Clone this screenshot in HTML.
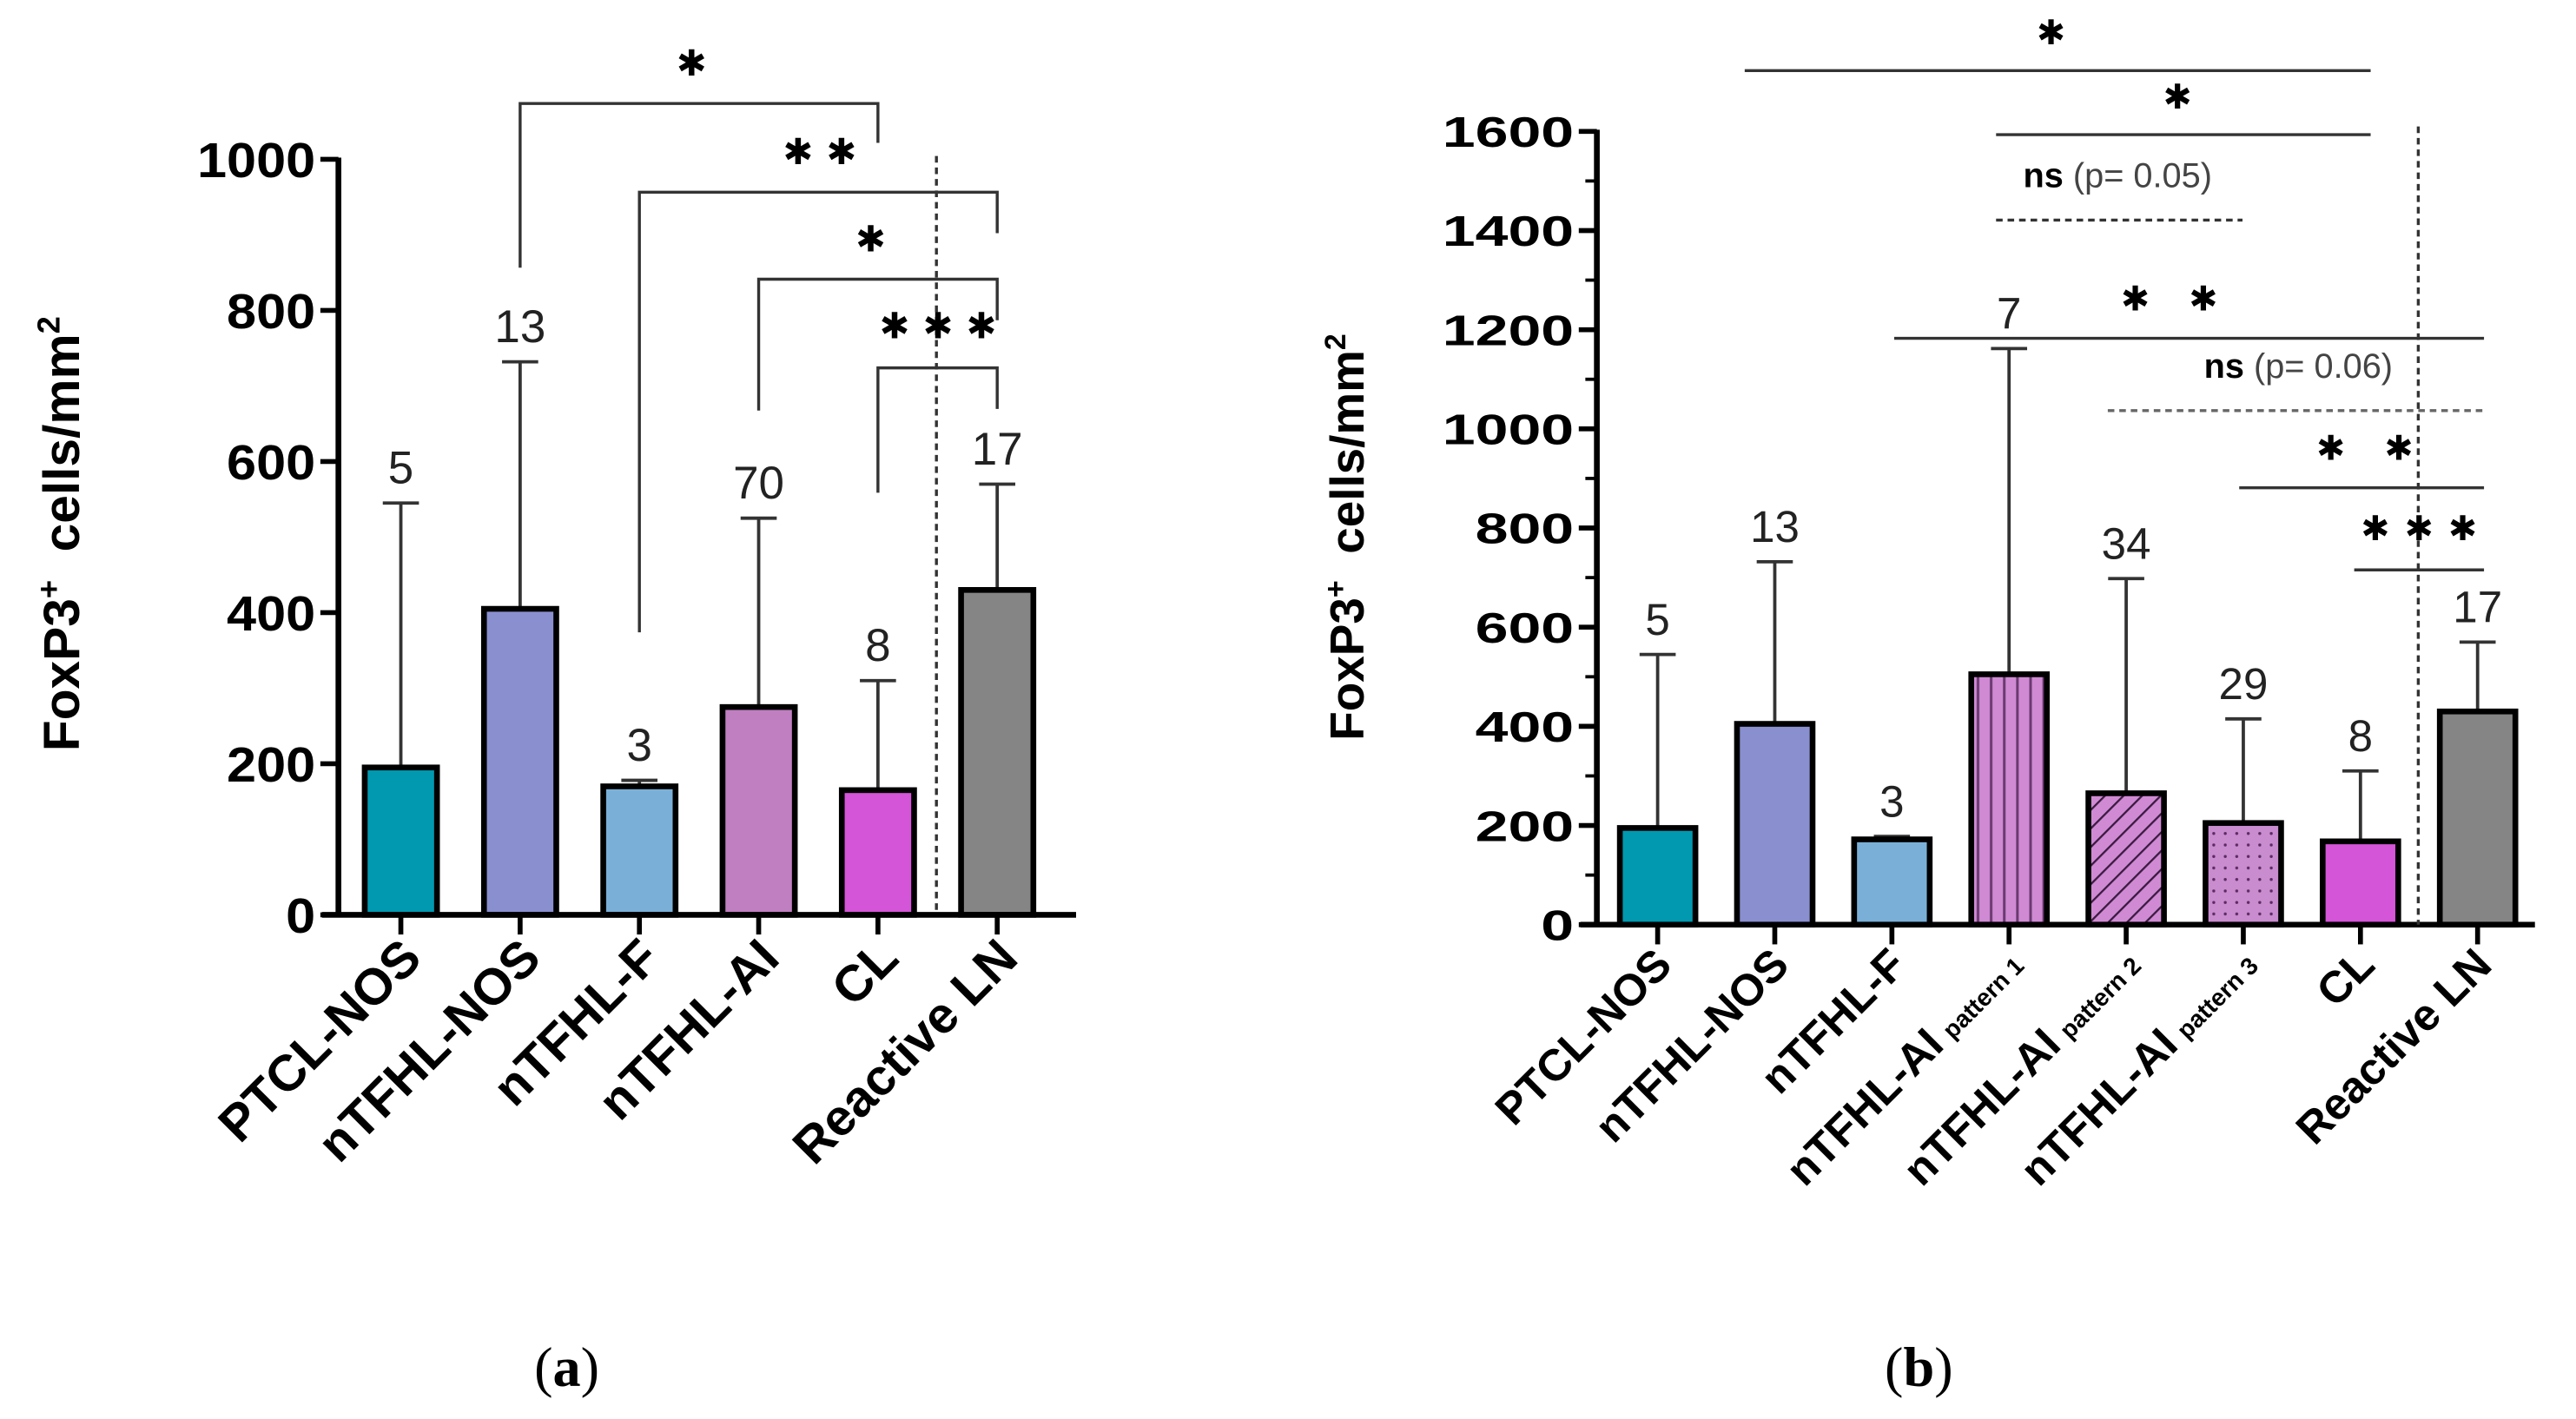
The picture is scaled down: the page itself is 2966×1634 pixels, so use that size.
<!DOCTYPE html>
<html><head><meta charset="utf-8"><style>
html,body{margin:0;padding:0;background:#fff;}
svg{display:block;}
text{font-family:"Liberation Sans",sans-serif;}
</style></head>
<body>
<svg id="fig" width="2966" height="1634" viewBox="0 0 1568 864" preserveAspectRatio="none" xmlns="http://www.w3.org/2000/svg">
<defs>
<pattern id="vstripe" width="8" height="8" patternUnits="userSpaceOnUse"><rect width="8" height="8" fill="#d08ad4"/><line x1="4" y1="0" x2="4" y2="8" stroke="#6a3a70" stroke-width="1.6"/></pattern>
<pattern id="dstripe" width="8" height="8" patternUnits="userSpaceOnUse" patternTransform="rotate(45)"><rect width="8" height="8" fill="#d08ad4"/><line x1="0" y1="0" x2="0" y2="8" stroke="#3a1a40" stroke-width="2.4"/></pattern>
<pattern id="dots" width="7" height="7" patternUnits="userSpaceOnUse"><rect width="7" height="7" fill="#c98ccf"/><circle cx="3.5" cy="3.5" r="0.9" fill="#5a2a60"/></pattern>
</defs>
<g id="pa"></g>
<g id="pb"></g>
<text x="345" y="844" text-anchor="middle" font-size="34" style="font-family:'Liberation Serif',serif">(<tspan font-weight="bold">a</tspan>)</text>
<text x="1168" y="844" text-anchor="middle" font-size="34" style="font-family:'Liberation Serif',serif">(<tspan font-weight="bold">b</tspan>)</text>
</svg>
<script>
// Panel A data
const catsA = ["PTCL-NOS","nTFHL-NOS","nTFHL-F","nTFHL-AI","CL","Reactive LN"];
const meanA = [195,405,170,275,165,430];
const errA = [545,732,178,525,310,570];
const nA = ["5","13","3","70","8","17"];
const fillA = ["#0099b0","#8a8fd0","#7ab0d8","#c07fc0","#d455d8","#858585"];
const ticksA = [0,200,400,600,800,1000];
// Panel B data
const catsB = ["PTCL-NOS","nTFHL-NOS","nTFHL-F","nTFHL-AI","nTFHL-AI","nTFHL-AI","CL","Reactive LN"];
const subB = ["","","","pattern 1","pattern 2","pattern 3","",""];
const meanB = [195,405,172,505,265,205,168,430];
const errB = [545,732,178,1162,698,415,310,570];
const nB = ["5","13","3","7","34","29","8","17"];
const fillB = ["#0099b0","#8a8fd0","#7ab0d8","url(#vstripe)","url(#dstripe)","url(#dots)","#d455d8","#858585"];
const ticksB = [0,200,400,600,800,1000,1200,1400,1600];

const NS="http://www.w3.org/2000/svg";
function mk(parent,tag,attrs,txt){const e=document.createElementNS(NS,tag);for(const k in attrs)e.setAttribute(k,attrs[k]);if(txt!==undefined)e.textContent=txt;parent.appendChild(e);return e;}

function drawPanel(g,cfg){
  const y=v=>cfg.y0-(v/cfg.ymax)*(cfg.y0-cfg.ytop);
  const x=i=>cfg.x0+i*cfg.step;
  cfg.cats.forEach((c,i)=>{
    const w=cfg.bw;
    const eb=mk(g,"line",{x1:x(i),x2:x(i),y1:y(cfg.err[i]),y2:y(cfg.mean[i]),stroke:"#333","stroke-width":2});
    
    
    const cap=mk(g,"line",{x1:x(i)-11,x2:x(i)+11,y1:y(cfg.err[i]),y2:y(cfg.err[i]),stroke:"#333","stroke-width":2});
    
    
    const b=mk(g,"rect",{x:x(i)-w/2,y:y(cfg.mean[i]),width:w,height:y(0)-y(cfg.mean[i]),fill:cfg.fill[i],stroke:"#000","stroke-width":3.5});
    
    
    const n=mk(g,"text",{x:x(i),y:y(cfg.err[i])-12,"text-anchor":"middle","font-size":cfg.nfs,fill:"#222"},cfg.n[i]);
    
    
    const t=mk(g,"line",{x1:x(i),x2:x(i),y1:cfg.y0,y2:cfg.y0+12,stroke:"#000","stroke-width":3});
    
    
    const lab=mk(g,"text",{transform:`translate(${x(i)+cfg.ldx},${cfg.y0+cfg.ldy}) rotate(-45)`,"text-anchor":"end","font-size":cfg.lfs,"font-weight":"bold"},c);
    if(cfg.sub&&cfg.sub[i]){mk(lab,"tspan",{"font-size":cfg.lfs*0.55,dx:6,dy:0},cfg.sub[i]);}
    
    
  });
  const ya=mk(g,"line",{x1:cfg.ax,x2:cfg.ax,y1:cfg.ytop-1,y2:cfg.y0+1.5,stroke:"#000","stroke-width":3.5});
  
  
  const xa=mk(g,"line",{x1:cfg.ax-10,x2:cfg.xend,y1:cfg.y0,y2:cfg.y0,stroke:"#000","stroke-width":3.5});
  
  
  cfg.ticks.forEach(v=>{
    const tk=mk(g,"line",{x1:cfg.ax-11,x2:cfg.ax,y1:y(v),y2:y(v),stroke:"#000","stroke-width":3});
    
    
    const s=String(v);
    const tl=mk(g,"text",{x:cfg.ax-14,y:y(v)+cfg.tfs*0.36,"text-anchor":"end","font-size":cfg.tfs,"font-weight":"bold",textLength:s.length*cfg.tcw,lengthAdjust:"spacingAndGlyphs"},s);
    
    
  });
  if(cfg.minor){cfg.ticks.slice(0,-1).forEach(v=>{
    const mt=mk(g,"line",{x1:cfg.ax-7,x2:cfg.ax,y1:y(v+cfg.minor),y2:y(v+cfg.minor),stroke:"#000","stroke-width":2});
    
    
  });}
  const yt=mk(g,"text",{transform:`translate(${cfg.titleX},${cfg.titleY}) rotate(-90)`,"text-anchor":"middle","font-size":cfg.ttfs,"font-weight":"bold"},"FoxP3");
  mk(yt,"tspan",{dy:-cfg.ttfs*0.38,"font-size":cfg.ttfs*0.62},"+");
  mk(yt,"tspan",{dy:cfg.ttfs*0.38},"\u00a0 cells/mm");
  mk(yt,"tspan",{dy:-cfg.ttfs*0.38,"font-size":cfg.ttfs*0.62},"2");
  
  
  const dv=mk(g,"line",{x1:cfg.dashX,x2:cfg.dashX,y1:cfg.dashTop,y2:cfg.y0,stroke:"#333","stroke-width":1.8,"stroke-dasharray":"4,3"});
  
  
  return {x,y};
}

const A=drawPanel(document.getElementById('pa'),{cats:catsA,mean:meanA,err:errA,n:nA,fill:fillA,ticks:ticksA,
  ymax:1000,y0:557,ytop:97,x0:244,step:72.6,bw:44,ax:206,xend:655,tfs:30,tcw:18,lfs:31,ldx:14,ldy:28,nfs:28,ttfs:31,titleX:48,titleY:325,dashX:570,dashTop:95});
const B=drawPanel(document.getElementById('pb'),{cats:catsB,sub:subB,mean:meanB,err:errB,n:nB,fill:fillB,ticks:ticksB,minor:100,
  ymax:1600,y0:563,ytop:80,x0:1009,step:71.3,bw:46,ax:972,xend:1543,tfs:26,tcw:20,lfs:27,ldx:10,ldy:26,nfs:27,ttfs:29,titleX:830,titleY:327,dashX:1472,dashTop:77});

const ga=document.getElementById('pa');
function bracket(g,x1,d1,x2,d2,yy,label,lx,ly){
  const p=mk(g,"path",{d:`M${x1},${d1} V${yy} H${x2} V${d2}`,fill:"none",stroke:"#333","stroke-width":1.8});
  
  
  const t=mk(g,"text",{x:lx,y:ly,"text-anchor":"middle","font-size":22,"letter-spacing":"8"},label);
  
  
}
bracket(ga,A.x(1),163,A.x(4),87,63,"✱",425,46);
bracket(ga,A.x(2),385,A.x(5),142,117,"✱✱",503,100);
bracket(ga,A.x(3),250,A.x(5),195,170,"✱",534,153);
bracket(ga,A.x(4),300,A.x(5),249,224,"✱✱✱",575,206);

const gb=document.getElementById('pb');
function sig(g,x1,x2,yy,dash,col,label,lx,ly){
  const l=mk(g,"line",{x1:x1,x2:x2,y1:yy,y2:yy,stroke:col,"stroke-width":1.8});
  if(dash)l.setAttribute("stroke-dasharray",dash);
  
  
  const t=mk(g,"text",{x:lx,y:ly,"text-anchor":"middle","font-size":21,"letter-spacing":"9"},label);
  
  
  return t;
}
sig(gb,1062,1443,43,null,"#333","✱",1253,27);
sig(gb,1215,1443,82,null,"#333","✱",1330,66);
const ns1=sig(gb,1215,1365,134,"4,3","#333","",1289,114);
ns1.setAttribute("letter-spacing","0");ns1.setAttribute("font-size","21");
ns1.innerHTML='<tspan font-weight="bold">ns</tspan><tspan fill="#444"> (p= 0.05)</tspan>';
sig(gb,1153,1512,206,null,"#333","✱ ✱",1325,189);
const ns2=sig(gb,1283,1512,250,"4,3","#666","",1399,230);
ns2.setAttribute("letter-spacing","0");ns2.setAttribute("font-size","21");
ns2.innerHTML='<tspan font-weight="bold">ns</tspan><tspan fill="#444"> (p= 0.06)</tspan>';
sig(gb,1363,1512,297,null,"#333","✱ ✱",1444,280);
sig(gb,1433,1512,347,null,"#333","✱✱✱",1477,329);
</script>
</body></html>
